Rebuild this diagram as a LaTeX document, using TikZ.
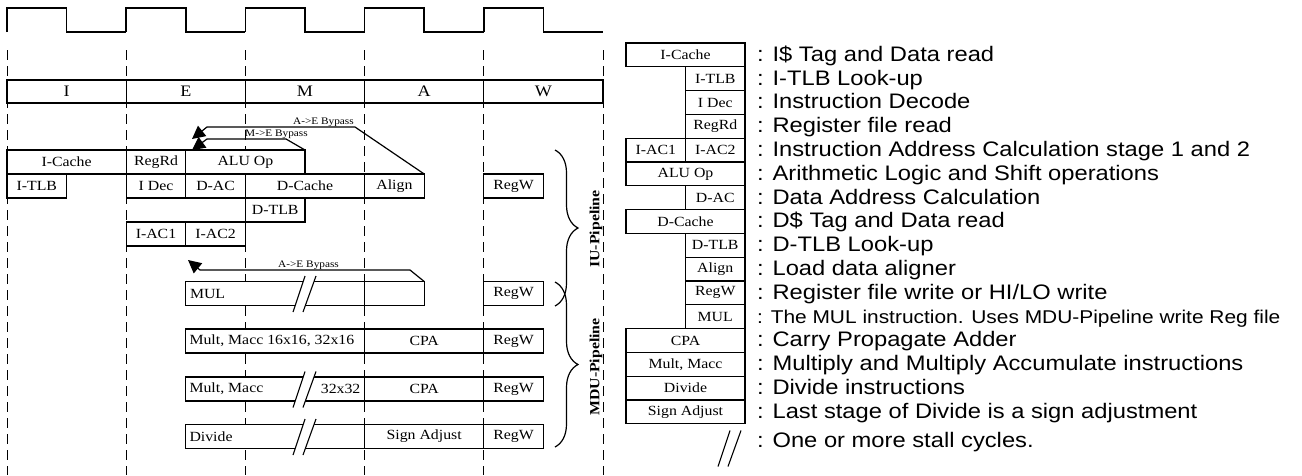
\documentclass[tikz,border=0pt]{standalone}
\usepackage{fontspec}
\setmainfont{Liberation Serif}[FakeStretch=1.13]
\newfontfamily\legfont{Liberation Sans}[FakeStretch=1.13]
\usetikzlibrary{arrows.meta}
\usetikzlibrary{decorations.pathreplacing}

% two slanted strokes marking stall cycles
\newcommand{\stallmark}[2]{%
  \begin{scope}[shift={(#1,#2)}]
    \fill[white] (-11,18.5) -- (1,-17.5) -- (12,-17.5) -- (-1,18.5) -- cycle;
    \draw[line width=1.1pt] (-11,18.5) -- (1,-17.5) (-1,18.5) -- (12,-17.5);
  \end{scope}}

\begin{document}
\begin{tikzpicture}[x=1pt, y=-1pt,
  box/.style={draw, fill=white, line width=1.1pt, anchor=north west, minimum height=24pt,
    inner sep=0pt, outer sep=0pt, font=\fontsize{14}{16}\selectfont},
  stage/.style={box, minimum width=119.2pt, minimum height=23pt, font=\fontsize{16}{18}\selectfont},
  legbox/.style={box, minimum height=23.8pt},
  legtext/.style={anchor=base west, inner sep=0pt, font=\legfont\fontsize{21}{24}\selectfont},
  boxtext/.style={inner sep=0pt, font=\fontsize{14}{16}\selectfont},
  clock/.style={line width=1.6pt},
  guide/.style={line width=0.8pt, dash pattern=on 10pt off 6pt},
  bypass/.style={line width=1.2pt, -{Triangle[length=13pt,width=13pt]}},
  bypasstext/.style={inner sep=0pt, font=\fontsize{10}{12}\selectfont},
  pipebrace/.style={decorate, decoration={brace, amplitude=23pt}, line width=1.2pt},
  pipelabel/.style={rotate=90, inner sep=0pt, font=\bfseries\fontsize{14}{16}\selectfont}
]
  \useasboundingbox (0,0) rectangle (1302,475);

  % Clock
  \foreach \x in {7,126.2,245.4,364.6,483.8}
    \draw[clock] (\x,32) -- (\x,8) -- ++(59.6,0) -- ++(0,24) -- ++(59.6,0);

  % Cycle boundaries
  \foreach \x in {7,126.2,245.4,364.6,483.8,603}
    \draw[guide] (\x,50) -- (\x,475);

  % Stages
  \foreach \s [count=\i from 0] in {I,E,M,A,W}
    \node[stage] (st\s) at ({7+119.2*\i},80) {\s};

  % IU pipeline
  \node[box, minimum width=119.2pt] (icache) at (7,150) {I-Cache};
  \node[box, minimum width=59.6pt] (regrd) at (126.2,150) {RegRd};
  \node[box, minimum width=119.2pt] (alu) at (185.8,150) {ALU Op};
  \node[box, minimum width=59.6pt] (itlb) at (7,174) {I-TLB};
  \node[box, minimum width=59.6pt] (idec) at (126.2,174) {I Dec};
  \node[box, minimum width=59.6pt] (dac) at (185.8,174) {D-AC};
  \node[box, minimum width=119.2pt] (dcache) at (245.4,174) {D-Cache};
  \node[box, minimum width=59.6pt] (align) at (364.6,174) {Align};
  \node[box, minimum width=59.6pt] (regwa) at (483.8,174) {RegW};
  \node[box, minimum width=59.6pt] (dtlb) at (245.4,198) {D-TLB};
  \node[box, minimum width=59.6pt] (iaca) at (126.2,222) {I-AC1};
  \node[box, minimum width=59.6pt] (iacb) at (185.8,222) {I-AC2};

  % MUL
  \node[box, minimum width=178.8pt] (mul) at (185.8,281.5) {};
  \node[boxtext, anchor=west] at ([xshift=4pt]mul.west) {MUL};
  \node[box, minimum width=59.6pt] (mulx) at (364.6,281.5) {};
  \node[box, minimum width=59.6pt] (regwb) at (483.8,281.5) {RegW};

  % MDU pipeline
  \node[box, minimum width=178.8pt] (multa) at (185.8,329) {};
  \node[boxtext, anchor=west] at ([xshift=3.5pt]multa.west) {Mult, Macc 16x16, 32x16};
  \node[box, minimum width=119.2pt] (cpaa) at (364.6,329) {CPA};
  \node[box, minimum width=59.6pt] (regwc) at (483.8,329) {RegW};

  \node[box, minimum width=178.8pt] (multb) at (185.8,377) {};
  \node[boxtext, anchor=west] at ([xshift=3.5pt]multb.west) {Mult, Macc};
  \node[boxtext, anchor=east] at ([xshift=-4pt]multb.east) {32x32};
  \node[box, minimum width=119.2pt] (cpab) at (364.6,377) {CPA};
  \node[box, minimum width=59.6pt] (regwd) at (483.8,377) {RegW};

  \node[box, minimum width=178.8pt] (divide) at (185.8,424.5) {};
  \node[boxtext, anchor=west] at ([xshift=3.5pt]divide.west) {Divide};
  \node[box, minimum width=119.2pt] (sign) at (364.6,424.5) {Sign Adjust};
  \node[box, minimum width=59.6pt] (regwe) at (483.8,424.5) {RegW};

  \stallmark{304}{293.5}
  \stallmark{304}{389}
  \stallmark{304}{436.5}

  % Bypasses
  \draw[bypass] (align.north east) -- (355,127) -- (207,127) -- (192,139);
  \draw[bypass] (alu.north east) -- (286,139) -- (207,139) -- (192,150);
  \draw[bypass] (mulx.north east) -- (410,270) -- (200,270) -- (188,260);
  \node[bypasstext, anchor=base east] (aelbl) at (354,124) {A->E Bypass};
  \node[bypasstext, anchor=base east] (melbl) at (308,136.5) {M->E Bypass};
  \node[bypasstext, anchor=base west] (aelblb) at (278,267) {A->E Bypass};

  % Braces
  \draw[pipebrace] (555,150) -- (555,306);
  \draw[pipebrace] (555,282) -- (555,447);
  \node[pipelabel] (iulbl) at (596,229) {IU-Pipeline};
  \node[pipelabel] (mdulbl) at (596,367) {MDU-Pipeline};

  % Legend
  \node[legbox, minimum width=119pt] (lgicache) at (626,43) {I-Cache};
  \node[legbox, minimum width=59.5pt] (lgitlb) at (685.5,66.8) {I-TLB};
  \node[legbox, minimum width=59.5pt] (lgidec) at (685.5,90.6) {I Dec};
  \node[legbox, minimum width=59.5pt] (lgregrd) at (685.5,114.4) {RegRd};
  \node[legbox, minimum width=59.5pt] (lgiaca) at (626,138.2) {I-AC1};
  \node[legbox, minimum width=59.5pt] (lgiacb) at (685.5,138.2) {I-AC2};
  \node[legbox, minimum width=119pt] (lgalu) at (626,162) {ALU Op};
  \node[legbox, minimum width=59.5pt] (lgdac) at (685.5,185.8) {D-AC};
  \node[legbox, minimum width=119pt] (lgdcache) at (626,209.6) {D-Cache};
  \node[legbox, minimum width=59.5pt] (lgdtlb) at (685.5,233.4) {D-TLB};
  \node[legbox, minimum width=59.5pt] (lgalign) at (685.5,257.2) {Align};
  \node[legbox, minimum width=59.5pt] (lgregw) at (685.5,281) {RegW};
  \node[legbox, minimum width=59.5pt] (lgmul) at (685.5,304.8) {MUL};
  \node[legbox, minimum width=119pt] (lgcpa) at (626,328.6) {CPA};
  \node[legbox, minimum width=119pt] (lgmult) at (626,352.4) {Mult, Macc};
  \node[legbox, minimum width=119pt] (lgdiv) at (626,376.2) {Divide};
  \node[legbox, minimum width=119pt] (lgsign) at (626,400) {Sign Adjust};

  \node[legtext] at ([xshift=12pt,yshift=5.5pt]lgicache.south east) {: I\$ Tag and Data read};
  \node[legtext] at ([xshift=12pt,yshift=5.5pt]lgitlb.south east) {: I-TLB Look-up};
  \node[legtext] at ([xshift=12pt,yshift=5.5pt]lgidec.south east) {: Instruction Decode};
  \node[legtext] at ([xshift=12pt,yshift=5.5pt]lgregrd.south east) {: Register file read};
  \node[legtext] at ([xshift=12pt,yshift=5.5pt]lgiacb.south east) {: Instruction Address Calculation stage 1 and 2};
  \node[legtext] at ([xshift=12pt,yshift=5.5pt]lgalu.south east) {: Arithmetic Logic and Shift operations};
  \node[legtext] at ([xshift=12pt,yshift=5.5pt]lgdac.south east) {: Data Address Calculation};
  \node[legtext] at ([xshift=12pt,yshift=5.5pt]lgdcache.south east) {: D\$ Tag and Data read};
  \node[legtext] at ([xshift=12pt,yshift=5.5pt]lgdtlb.south east) {: D-TLB Look-up};
  \node[legtext] at ([xshift=12pt,yshift=5.5pt]lgalign.south east) {: Load data aligner};
  \node[legtext] at ([xshift=12pt,yshift=5.5pt]lgregw.south east) {: Register file write or HI/LO write};
  \node[legtext, font=\legfont\fontsize{18.5}{20}\selectfont] at ([xshift=12pt,yshift=5.5pt]lgmul.south east) {: The MUL instruction. Uses MDU-Pipeline write Reg file};
  \node[legtext] at ([xshift=12pt,yshift=5.5pt]lgcpa.south east) {: Carry Propagate Adder};
  \node[legtext] at ([xshift=12pt,yshift=5.5pt]lgmult.south east) {: Multiply and Multiply Accumulate instructions};
  \node[legtext] at ([xshift=12pt,yshift=5.5pt]lgdiv.south east) {: Divide instructions};
  \node[legtext] at ([xshift=12pt,yshift=5.5pt]lgsign.south east) {: Last stage of Divide is a sign adjustment};

  \stallmark{729}{448}
  \node[legtext] (stalltxt) at (757,447) {: One or more stall cycles.};
\end{tikzpicture}
\end{document}
